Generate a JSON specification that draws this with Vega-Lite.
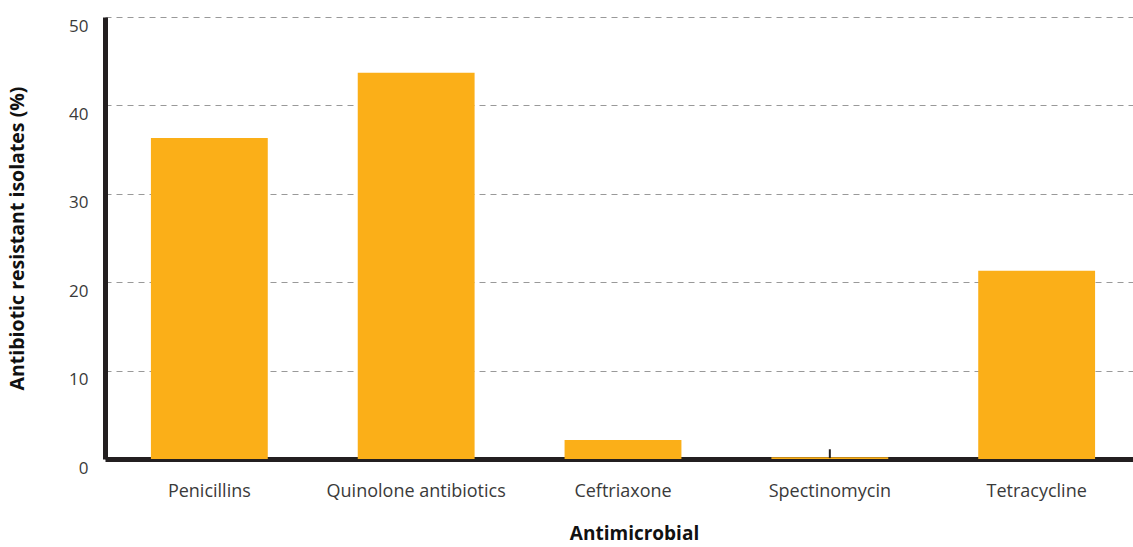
{
  "$schema": "https://vega.github.io/schema/vega-lite/v6.json",
  "autosize": "none",
  "padding": {"left": 105, "top": 17, "right": 0, "bottom": 88},
  "width": 1036,
  "height": 442,
  "background": "white",
  "config": {"view": {"stroke": null}, "font": "Open Sans"},
  "data": {"values": [
    {"antimicrobial": "Penicillins", "value": 36.3},
    {"antimicrobial": "Quinolone antibiotics", "value": 43.7},
    {"antimicrobial": "Ceftriaxone", "value": 2.15},
    {"antimicrobial": "Spectinomycin", "value": 0.2, "lo": 0.1, "hi": 1.1},
    {"antimicrobial": "Tetracycline", "value": 21.3}
  ]},
  "encoding": {
    "x": {
      "field": "antimicrobial", "type": "nominal", "sort": null,
      "scale": {"paddingInner": 0.435, "paddingOuter": 0.222},
      "axis": {
        "title": "Antimicrobial", "labelAngle": 0, "ticks": false,
        "domainColor": "#231f20", "domainWidth": 5,
        "labelFont": "Open Sans", "labelFontSize": 18, "labelColor": "#3a3a3a",
        "labelPadding": 23, "titleFont": "Open Sans", "titleFontSize": 19,
        "titleFontWeight": "bold", "titleColor": "#111", "titlePadding": 24, "titleX": 529
      }
    }
  },
  "layer": [
    {
      "mark": {"type": "bar", "color": "#FBAF18"},
      "encoding": {
        "y": {
          "field": "value", "type": "quantitative",
          "scale": {"domain": [0, 50], "nice": false},
          "axis": {
            "title": "Antibiotic resistant isolates (%)", "values": [0, 10, 20, 30, 40, 50],
            "ticks": false, "domainColor": "#231f20", "domainWidth": 5,
            "grid": true, "gridColor": "#999999", "gridDash": [6, 5], "gridWidth": 1,
            "labelFont": "Open Sans", "labelFontSize": 17, "labelColor": "#3a3a3a",
            "labelPadding": 17, "labelOffset": 9,
            "titleFont": "Open Sans", "titleFontSize": 19.5, "titleFontWeight": "bold",
            "titleColor": "#111", "titlePadding": 41
          }
        }
      }
    },
    {
      "mark": {"type": "rule", "color": "#231f20", "strokeWidth": 2},
      "encoding": {
        "y": {"field": "lo", "type": "quantitative"},
        "y2": {"field": "hi"}
      }
    }
  ]
}
